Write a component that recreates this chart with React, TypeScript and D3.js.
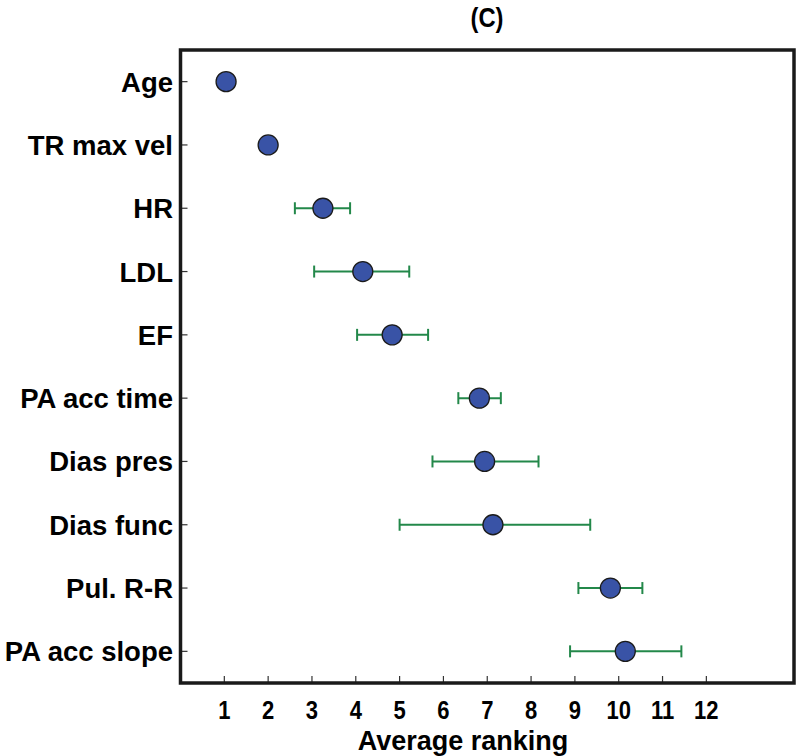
import React from "react";
import * as d3 from "d3";

const features = ["Age", "TR max vel", "HR", "LDL", "EF", "PA acc time", "Dias pres", "Dias func", "Pul. R-R", "PA acc slope"];
const meanRank = [1.04, 2.0, 3.25, 4.16, 4.83, 6.82, 6.94, 7.13, 9.81, 10.15];
const lowerRank: (number | null)[] = [null, null, 2.61, 3.05, 4.03, 6.34, 5.75, 5.0, 9.08, 8.89];
const upperRank: (number | null)[] = [null, null, 3.87, 5.22, 5.65, 7.31, 8.17, 9.35, 10.54, 11.43];
const xTicks = [1, 2, 3, 4, 5, 6, 7, 8, 9, 10, 11, 12];

const W = 800, H = 756;
const left = 180.5, right = 794, top = 50, bottom = 683;
const font = "'Liberation Sans', Arial, Helvetica, sans-serif";

export default function App() {
  const x = d3.scaleLinear().domain([0, 14]).range([left, right]);
  const y = d3.scalePoint<string>().domain(features).range([top, bottom]).padding(0.5);
  const green = "#23884a";
  return (
    <svg width={W} height={H} style={{ position: "absolute", left: 0, top: 0, background: "#fff" }}>
      <text transform="translate(487,27) scale(0.85,1)" textAnchor="middle" fontFamily={font} fontWeight="bold" fontSize={28}>(C)</text>
      {/* y ticks and labels */}
      {features.map((f) => (
        <g key={f}>
          <line x1={left} x2={left + 7} y1={y(f)} y2={y(f)} stroke="#333" strokeWidth={1.2} />
          <text x={173} y={(y(f) as number) + 10} textAnchor="end" fontFamily={font} fontWeight="bold" fontSize={27.5}>{f}</text>
        </g>
      ))}
      {/* x ticks and labels */}
      {xTicks.map((t) => (
        <g key={t}>
          <line x1={x(t)} x2={x(t)} y1={bottom} y2={bottom - 7} stroke="#333" strokeWidth={1.2} />
          <text transform={`translate(${x(t)},719) scale(0.88,1)`} textAnchor="middle" fontFamily={font} fontWeight="bold" fontSize={25}>{t}</text>
        </g>
      ))}
      <text x={463} y={750} textAnchor="middle" fontFamily={font} fontWeight="bold" fontSize={27}>Average ranking</text>
      {/* error bars */}
      {features.map((f, i) => {
        const lo = lowerRank[i], hi = upperRank[i];
        if (lo == null || hi == null) return null;
        const cy = y(f) as number;
        return (
          <g key={"e" + f} stroke={green} strokeWidth={2}>
            <line x1={x(lo)} x2={x(hi)} y1={cy} y2={cy} />
            <line x1={x(lo)} x2={x(lo)} y1={cy - 6} y2={cy + 6} />
            <line x1={x(hi)} x2={x(hi)} y1={cy - 6} y2={cy + 6} />
          </g>
        );
      })}
      {/* points */}
      {features.map((f, i) => (
        <circle key={"p" + f} cx={x(meanRank[i])} cy={y(f)} r={10} fill="#3953a6" stroke="#1b1b1b" strokeWidth={1.3} />
      ))}
      {/* frame */}
      <rect x={left} y={top} width={right - left} height={bottom - top} fill="none" stroke="#1a1a1a" strokeWidth={3.5} />
    </svg>
  );
}
